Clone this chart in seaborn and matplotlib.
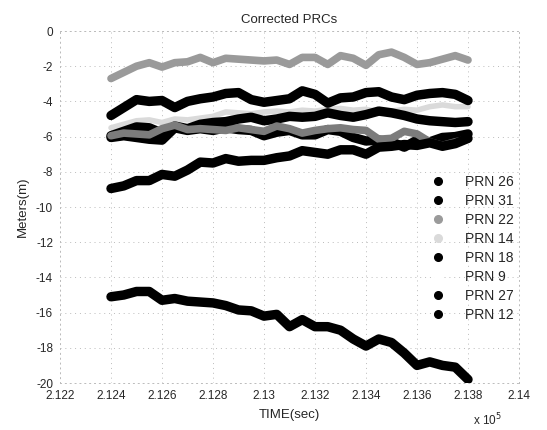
import matplotlib
matplotlib.use("Agg")
import matplotlib.pyplot as plt
import numpy as np
import pandas as pd
import seaborn as sns
from matplotlib.lines import Line2D

# sample times (seconds)
time_s = [212400, 212450, 212500, 212550, 212600, 212650, 212700, 212750,
          212800, 212850, 212900, 212950, 213000, 213050, 213100, 213150,
          213200, 213250, 213300, 213350, 213400, 213450, 213500, 213550,
          213600, 213650, 213700, 213750, 213800]

prn_labels = ["PRN 26", "PRN 31", "PRN 22", "PRN 14", "PRN 18", "PRN 9", "PRN 27", "PRN 12"]

prn26 = [-4.8, -4.35, -3.9, -4.0, -3.95, -4.35, -4.0, -3.85, -3.75, -3.55, -3.5, -3.9,
         -4.05, -3.95, -3.85, -3.4, -3.6, -4.1, -3.8, -3.75, -3.5, -3.45, -3.75, -3.9,
         -3.65, -3.55, -3.5, -3.6, -3.95]
prn31 = [-5.95, -5.7, -5.45, -5.5, -5.8, -5.4, -5.55, -5.3, -5.2, -5.15, -5.0, -4.9,
         -5.1, -5.0, -4.85, -4.9, -4.85, -4.65, -4.8, -4.9, -4.75, -4.55, -4.65, -4.8,
         -5.0, -5.1, -5.15, -5.2, -5.15]
prn22 = [-2.7, -2.35, -2.0, -1.8, -2.05, -1.8, -1.75, -1.5, -1.8, -1.55, -1.6, -1.65,
         -1.7, -1.65, -1.9, -1.5, -1.5, -1.9, -1.4, -1.55, -1.95, -1.35, -1.2, -1.5,
         -1.9, -1.8, -1.6, -1.4, -1.65]
prn14 = [-5.5, -5.3, -5.1, -5.05, -5.2, -5.0, -5.05, -4.95, -4.85, -4.6, -4.65, -4.7,
         -4.6, -4.55, -4.6, -4.5, -4.55, -4.45, -4.4, -4.5, -4.45, -4.6, -4.55, -4.45,
         -4.5, -4.3, -4.2, -4.3, -4.3]
prn18 = [-6.05, -5.95, -6.05, -6.15, -6.2, -5.5, -5.65, -5.55, -5.65, -5.5, -5.6, -5.65,
         -5.95, -5.75, -5.65, -5.9, -5.9, -5.6, -5.7, -6.05, -6.25, -6.2, -6.3, -6.6,
         -6.2, -6.3, -6.05, -6.0, -5.85]
prn9 = [-5.95, -5.8, -5.85, -5.9, -5.55, -5.35, -5.6, -5.55, -5.6, -5.65, -5.5, -5.6,
        -5.7, -5.4, -5.55, -5.8, -5.65, -5.55, -5.5, -5.6, -5.65, -6.15, -6.1, -5.7,
        -5.85, -6.3, -6.5, -6.3, -6.15]
prn27 = [-8.95, -8.8, -8.5, -8.5, -8.15, -8.25, -7.9, -7.45, -7.5, -7.25, -7.4, -7.35,
         -7.35, -7.2, -7.1, -6.8, -6.9, -7.0, -6.75, -6.75, -7.0, -6.6, -6.55, -6.45,
         -6.5, -6.35, -6.55, -6.4, -6.1]
prn12 = [-15.1, -15.0, -14.8, -14.8, -15.3, -15.2, -15.35, -15.4, -15.45, -15.6, -15.85,
         -15.9, -16.2, -16.1, -16.8, -16.4, -16.8, -16.8, -17.0, -17.5, -17.9, -17.5,
         -17.7, -18.3, -19.0, -18.8, -19.0, -19.1, -19.8]

x_ticks = [212200, 212400, 212600, 212800, 213000, 213200, 213400, 213600, 213800, 214000]
x_tick_labels = ["2.122", "2.124", "2.126", "2.128", "2.13", "2.132", "2.134", "2.136", "2.138", "2.14"]
y_ticks = [0, -2, -4, -6, -8, -10, -12, -14, -16, -18, -20]

series = [prn26, prn31, prn22, prn14, prn18, prn9, prn27, prn12]
line_colors = ["#000000", "#000000", "#9a9a9a", "#dadada", "#000000", "#7c7c7c", "#000000", "#000000"]
legend_colors = ["#000000", "#000000", "#9a9a9a", "#dadada", "#000000", "#ffffff", "#000000", "#000000"]
widths = [6.8, 6.8, 5.5, 4.0, 6.8, 5.5, 6.8, 6.8]

df = pd.concat([pd.DataFrame({"time": time_s, "m": s, "prn": lab})
                for s, lab in zip(series, prn_labels)], ignore_index=True)

sns.set_theme(style="white")
plt.rcParams["font.family"] = ["Liberation Sans", "DejaVu Sans"]

fig = plt.figure(figsize=(5.47, 4.30), dpi=100)
ax = fig.add_axes([60/547, 1-383/430, 459/547, 352/430])

draw_order = ["PRN 14", "PRN 22", "PRN 26", "PRN 31", "PRN 18", "PRN 9", "PRN 27", "PRN 12"]
df["prn"] = pd.Categorical(df["prn"], categories=draw_order, ordered=True)
df = df.sort_values(["prn", "time"])
sns.lineplot(data=df, x="time", y="m", hue="prn", hue_order=draw_order,
             palette=dict(zip(prn_labels, line_colors)),
             size="prn", size_order=draw_order, sizes=dict(zip(prn_labels, widths)),
             estimator=None, sort=False, legend=False, ax=ax,
             solid_capstyle="round", solid_joinstyle="round")

ax.set_xlim(212200, 214000)
ax.set_ylim(-20, 0)
ax.set_xticks(x_ticks)
ax.set_xticklabels(x_tick_labels)
ax.set_yticks(y_ticks)
ax.set_yticklabels([str(v) for v in y_ticks])
ax.tick_params(axis="both", labelsize=8.5, length=2, width=0.6, color="#999999",
               direction="out", pad=3)
ax.grid(True, linestyle=(0, (1, 4)), linewidth=0.7, color="#bbbbbb")
for sp in ax.spines.values():
    sp.set_linestyle((0, (1, 4)))
    sp.set_linewidth(0.7)
    sp.set_color("#bbbbbb")

ax.set_title("Corrected PRCs", fontsize=9.5, pad=6)
ax.set_xlabel("TIME(sec)", fontsize=9.5, labelpad=5)
ax.set_ylabel("Meters(m)", fontsize=9.5, labelpad=5)
fig.text(487/547, 1-428/430, r"x 10$^5$", fontsize=8.5, ha="center", va="bottom")

handles = [Line2D([], [], linestyle="none", marker="o", markersize=5.5,
                  markerfacecolor=c, markeredgecolor=c) for c in legend_colors]
ax.legend(handles, prn_labels, loc="upper left", bbox_to_anchor=(425/547, 1-168/430),
          bbox_transform=fig.transFigure, frameon=False, fontsize=10,
          handlelength=0.8, handletextpad=1.6, labelspacing=0.36, borderpad=0)

fig.savefig("out.png", dpi=100)
